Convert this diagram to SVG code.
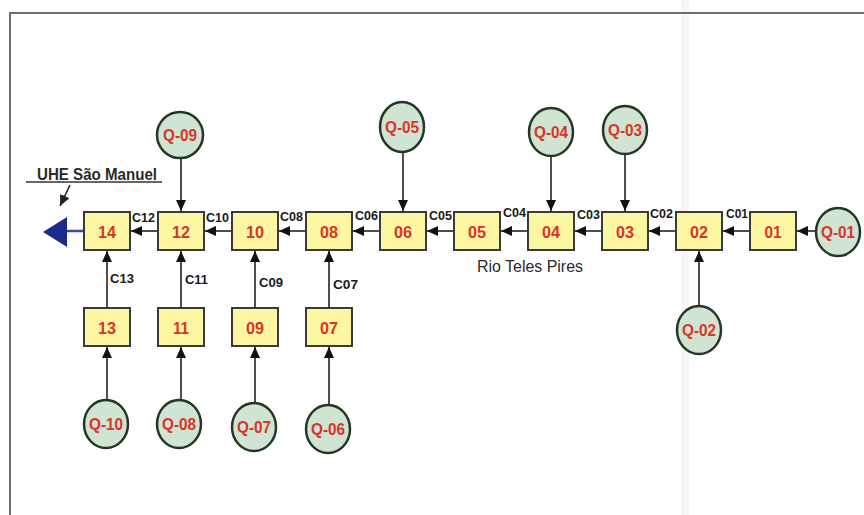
<svg xmlns="http://www.w3.org/2000/svg" width="864" height="515" viewBox="0 0 864 515">
<defs>
<style>
.box{fill:#faf6a2;stroke:#3a3a3a;stroke-width:2}
.q{fill:#cfe4d2;stroke:#263626;stroke-width:2.5}
.num{font-family:"Liberation Sans",Arial,sans-serif;font-weight:bold;font-size:17px;fill:#d8342a;text-anchor:middle}
.lbl{font-family:"Liberation Sans",Arial,sans-serif;font-weight:bold;font-size:13.5px;fill:#1a1a1a}
.cl{stroke:#222;stroke-width:1.6;fill:none;marker-end:url(#ah)}
.txt{font-family:"Liberation Sans",Arial,sans-serif;font-size:16px;fill:#2a2a2a}
</style>
<marker id="ah" markerUnits="userSpaceOnUse" markerWidth="12" markerHeight="10" refX="11" refY="5" orient="auto">
<path d="M0,0 L11,5 L0,10 Z" fill="#111"/>
</marker>
<marker id="ah2" markerUnits="userSpaceOnUse" markerWidth="12" markerHeight="10" refX="11" refY="5" orient="auto">
<path d="M0,0 L11,5 L0,10 Z" fill="#222"/>
</marker>
</defs>
<rect x="0" y="0" width="864" height="515" fill="#ffffff"/>
<rect x="681" y="0" width="8" height="515" fill="#f5f5fa"/>
<g id="frame" stroke="#6e6e6e" stroke-width="2" fill="none">
<path d="M10,515 L10,13 L864,13"/>
</g>

<g id="connectors">
<line class="cl" x1="816" y1="231" x2="797" y2="231"/>
<line class="cl" x1="750" y1="231" x2="723" y2="231"/>
<line class="cl" x1="676" y1="231" x2="649" y2="231"/>
<line class="cl" x1="602" y1="231" x2="575" y2="231"/>
<line class="cl" x1="528" y1="231" x2="501" y2="231"/>
<line class="cl" x1="454" y1="231" x2="427" y2="231"/>
<line class="cl" x1="380" y1="231" x2="353" y2="231"/>
<line class="cl" x1="306" y1="231" x2="279" y2="231"/>
<line class="cl" x1="232" y1="231" x2="205" y2="231"/>
<line class="cl" x1="158" y1="231" x2="131" y2="231"/>
<line x1="84" y1="231" x2="64" y2="231" stroke="#3a4aa6" stroke-width="2.5"/>
<path d="M43,232 L67,217 L67,247 Z" fill="#1c2a8c"/>
<line class="cl" x1="181" y1="158" x2="181" y2="211"/>
<line class="cl" x1="403" y1="152" x2="403" y2="211"/>
<line class="cl" x1="551" y1="156" x2="551" y2="211"/>
<line class="cl" x1="625" y1="154" x2="625" y2="211"/>
<line class="cl" x1="699" y1="306" x2="699" y2="251"/>
<line class="cl" x1="107" y1="308" x2="107" y2="251"/>
<line class="cl" x1="181" y1="308" x2="181" y2="251"/>
<line class="cl" x1="255" y1="308" x2="255" y2="251"/>
<line class="cl" x1="329" y1="308" x2="329" y2="251"/>
<line class="cl" x1="107" y1="400" x2="107" y2="347"/>
<line class="cl" x1="181" y1="400" x2="181" y2="347"/>
<line class="cl" x1="255" y1="403" x2="255" y2="347"/>
<line class="cl" x1="329" y1="405" x2="329" y2="347"/>
<line x1="70" y1="185" x2="60" y2="206" stroke="#222" stroke-width="1.6" marker-end="url(#ah2)"/>
<text class="lbl" x="132" y="222" textLength="23" lengthAdjust="spacingAndGlyphs">C12</text>
<text class="lbl" x="206" y="222" textLength="23" lengthAdjust="spacingAndGlyphs">C10</text>
<text class="lbl" x="280" y="221" textLength="23" lengthAdjust="spacingAndGlyphs">C08</text>
<text class="lbl" x="355" y="220" textLength="23" lengthAdjust="spacingAndGlyphs">C06</text>
<text class="lbl" x="429" y="220" textLength="23" lengthAdjust="spacingAndGlyphs">C05</text>
<text class="lbl" x="503" y="217" textLength="23" lengthAdjust="spacingAndGlyphs">C04</text>
<text class="lbl" x="577" y="219" textLength="23" lengthAdjust="spacingAndGlyphs">C03</text>
<text class="lbl" x="650" y="218" textLength="23" lengthAdjust="spacingAndGlyphs">C02</text>
<text class="lbl" x="726" y="218" textLength="22" lengthAdjust="spacingAndGlyphs">C01</text>
<text class="lbl" x="110" y="283" textLength="24" lengthAdjust="spacingAndGlyphs">C13</text>
<text class="lbl" x="185" y="284" textLength="23" lengthAdjust="spacingAndGlyphs">C11</text>
<text class="lbl" x="259" y="287" textLength="24" lengthAdjust="spacingAndGlyphs">C09</text>
<text class="lbl" x="333" y="289" textLength="25" lengthAdjust="spacingAndGlyphs">C07</text>
</g>

<g id="labels">
<text class="txt" x="37" y="180" font-weight="bold" textLength="120" lengthAdjust="spacingAndGlyphs">UHE São Manuel</text>
<line x1="26" y1="182" x2="162" y2="182" stroke="#333" stroke-width="1.3"/>
<text class="txt" x="477" y="272" textLength="106" lengthAdjust="spacingAndGlyphs">Rio Teles Pires</text>
</g>

<g id="n14"><rect class="box" x="84" y="212" width="46" height="38"/><text class="num" x="107" y="237.5" textLength="18" lengthAdjust="spacingAndGlyphs">14</text></g>
<g id="n12"><rect class="box" x="158" y="212" width="46" height="38"/><text class="num" x="181" y="237.5" textLength="18" lengthAdjust="spacingAndGlyphs">12</text></g>
<g id="n10"><rect class="box" x="232" y="212" width="46" height="38"/><text class="num" x="255" y="237.5" textLength="18" lengthAdjust="spacingAndGlyphs">10</text></g>
<g id="n08"><rect class="box" x="306" y="212" width="46" height="38"/><text class="num" x="329" y="237.5" textLength="18" lengthAdjust="spacingAndGlyphs">08</text></g>
<g id="n06"><rect class="box" x="380" y="212" width="46" height="38"/><text class="num" x="403" y="237.5" textLength="18" lengthAdjust="spacingAndGlyphs">06</text></g>
<g id="n05"><rect class="box" x="454" y="212" width="46" height="38"/><text class="num" x="477" y="237.5" textLength="18" lengthAdjust="spacingAndGlyphs">05</text></g>
<g id="n04"><rect class="box" x="528" y="212" width="46" height="38"/><text class="num" x="551" y="237.5" textLength="18" lengthAdjust="spacingAndGlyphs">04</text></g>
<g id="n03"><rect class="box" x="602" y="212" width="46" height="38"/><text class="num" x="625" y="237.5" textLength="18" lengthAdjust="spacingAndGlyphs">03</text></g>
<g id="n02"><rect class="box" x="676" y="212" width="46" height="38"/><text class="num" x="699" y="237.5" textLength="18" lengthAdjust="spacingAndGlyphs">02</text></g>
<g id="n01"><rect class="box" x="750" y="212" width="46" height="38"/><text class="num" x="773" y="237.5" textLength="17" lengthAdjust="spacingAndGlyphs">01</text></g>
<g id="n13"><rect class="box" x="84" y="308" width="46" height="38"/><text class="num" x="107" y="333.5" textLength="18" lengthAdjust="spacingAndGlyphs">13</text></g>
<g id="n11"><rect class="box" x="158" y="308" width="46" height="38"/><text class="num" x="181" y="333.5" textLength="16" lengthAdjust="spacingAndGlyphs">11</text></g>
<g id="n09"><rect class="box" x="232" y="308" width="46" height="38"/><text class="num" x="255" y="333.5" textLength="18" lengthAdjust="spacingAndGlyphs">09</text></g>
<g id="n07"><rect class="box" x="306" y="308" width="46" height="38"/><text class="num" x="329" y="333.5" textLength="18" lengthAdjust="spacingAndGlyphs">07</text></g>

<g id="q01"><ellipse class="q" cx="838" cy="232" rx="22" ry="24"/><text class="num" x="838" y="238" textLength="34" lengthAdjust="spacingAndGlyphs">Q-01</text></g>
<g id="q02"><ellipse class="q" cx="699" cy="330" rx="22" ry="24"/><text class="num" x="699" y="336" textLength="34" lengthAdjust="spacingAndGlyphs">Q-02</text></g>
<g id="q03"><ellipse class="q" cx="625" cy="130" rx="22" ry="24"/><text class="num" x="625" y="136" textLength="34" lengthAdjust="spacingAndGlyphs">Q-03</text></g>
<g id="q04"><ellipse class="q" cx="551" cy="132" rx="22" ry="24"/><text class="num" x="551" y="138" textLength="34" lengthAdjust="spacingAndGlyphs">Q-04</text></g>
<g id="q05"><ellipse class="q" cx="402" cy="127" rx="22" ry="25"/><text class="num" x="402" y="133" textLength="34" lengthAdjust="spacingAndGlyphs">Q-05</text></g>
<g id="q09"><ellipse class="q" cx="180" cy="135" rx="23" ry="23"/><text class="num" x="180" y="141" textLength="34" lengthAdjust="spacingAndGlyphs">Q-09</text></g>
<g id="q10"><ellipse class="q" cx="106" cy="424" rx="22" ry="24"/><text class="num" x="106" y="430" textLength="34" lengthAdjust="spacingAndGlyphs">Q-10</text></g>
<g id="q08"><ellipse class="q" cx="179" cy="424" rx="22" ry="24"/><text class="num" x="179" y="430" textLength="34" lengthAdjust="spacingAndGlyphs">Q-08</text></g>
<g id="q07"><ellipse class="q" cx="254" cy="427" rx="22" ry="24"/><text class="num" x="254" y="433" textLength="34" lengthAdjust="spacingAndGlyphs">Q-07</text></g>
<g id="q06"><ellipse class="q" cx="328" cy="429" rx="22" ry="24"/><text class="num" x="328" y="435" textLength="34" lengthAdjust="spacingAndGlyphs">Q-06</text></g>
</svg>
